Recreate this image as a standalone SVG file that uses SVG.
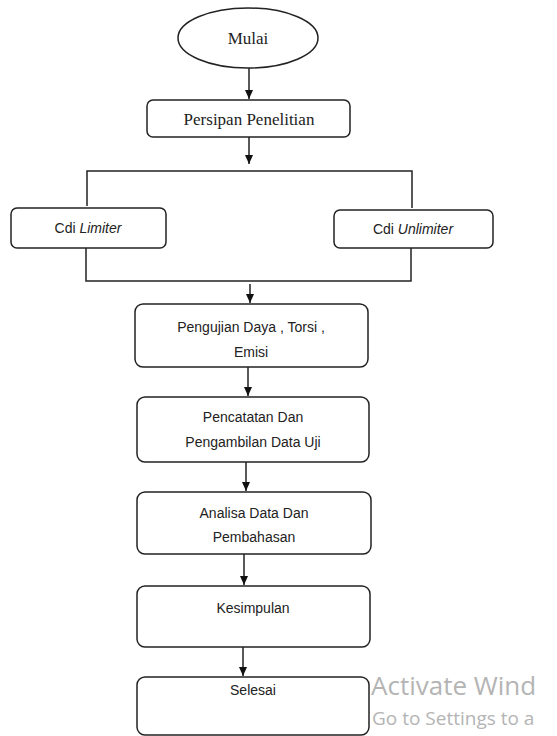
<svg xmlns="http://www.w3.org/2000/svg" width="557" height="736" viewBox="0 0 557 736">
<style>
.box{fill:#fff;stroke:#222;stroke-width:1.5}
.ln{fill:none;stroke:#222;stroke-width:1.5}
.t{font-family:"Liberation Sans",Arial,sans-serif;font-size:14px;fill:#222;text-anchor:middle}
.s{font-family:"Liberation Serif","Times New Roman",serif;font-size:17px;fill:#222;text-anchor:middle}
.wm{font-family:"Open Sans","Noto Sans",sans-serif;fill:#b4b4b4}
</style>
<defs>
<marker id="ah" markerWidth="10" markerHeight="10" refX="9" refY="5" orient="auto" markerUnits="userSpaceOnUse">
<path d="M0,1 L9,5 L0,9 Z" fill="#111"/>
</marker>
</defs>
<rect width="557" height="736" fill="#fff"/>
<g id="connectors">
<line class="ln" x1="249" y1="68" x2="249" y2="99" marker-end="url(#ah)"/>
<line class="ln" x1="249" y1="137" x2="249" y2="164" marker-end="url(#ah)"/>
<polyline class="ln" points="87,206 87,171 412,171 412,208"/>
<polyline class="ln" points="86,248 86,281 411,281 411,248"/>
<line class="ln" x1="250" y1="284" x2="250" y2="303" marker-end="url(#ah)"/>
<line class="ln" x1="248" y1="367" x2="248" y2="396" marker-end="url(#ah)"/>
<line class="ln" x1="246" y1="462" x2="246" y2="491" marker-end="url(#ah)"/>
<line class="ln" x1="244" y1="554" x2="244" y2="585" marker-end="url(#ah)"/>
<line class="ln" x1="243" y1="647" x2="243" y2="676" marker-end="url(#ah)"/>
</g>
<g id="mulai">
<ellipse class="box" cx="248" cy="38" rx="70" ry="30"/>
<text class="s" x="248" y="44">Mulai</text>
</g>
<g id="persiapan">
<rect class="box" x="147" y="100" width="203" height="37" rx="6"/>
<text class="s" x="249" y="125">Persipan Penelitian</text>
</g>
<g id="cdi-limiter">
<rect class="box" x="11" y="208" width="155" height="40" rx="6"/>
<text class="t" x="88" y="233">Cdi <tspan font-style="italic">Limiter</tspan></text>
</g>
<g id="cdi-unlimiter">
<rect class="box" x="334" y="210" width="159" height="38" rx="6"/>
<text class="t" x="413" y="234">Cdi <tspan font-style="italic">Unlimiter</tspan></text>
</g>
<g id="pengujian">
<rect class="box" x="135" y="304" width="233" height="63" rx="8"/>
<text class="t" x="251" y="332">Pengujian Daya , Torsi ,</text>
<text class="t" x="251" y="357">Emisi</text>
</g>
<g id="pencatatan">
<rect class="box" x="137" y="397" width="232" height="65" rx="8"/>
<text class="t" x="253" y="422">Pencatatan Dan</text>
<text class="t" x="253" y="447">Pengambilan Data Uji</text>
</g>
<g id="analisa">
<rect class="box" x="137" y="492" width="234" height="62" rx="8"/>
<text class="t" x="254" y="518">Analisa Data Dan</text>
<text class="t" x="254" y="542">Pembahasan</text>
</g>
<g id="kesimpulan">
<rect class="box" x="137" y="586" width="233" height="61" rx="8"/>
<text class="t" x="253" y="613">Kesimpulan</text>
</g>
<g id="selesai">
<rect class="box" x="137" y="677" width="232" height="58" rx="8"/>
<text class="t" x="253" y="695">Selesai</text>
</g>
<g id="watermark">
<text class="wm" x="371" y="695" font-size="26">Activate Wind</text>
<text class="wm" x="372" y="725" font-size="19">Go to Settings to a</text>
</g>
</svg>
